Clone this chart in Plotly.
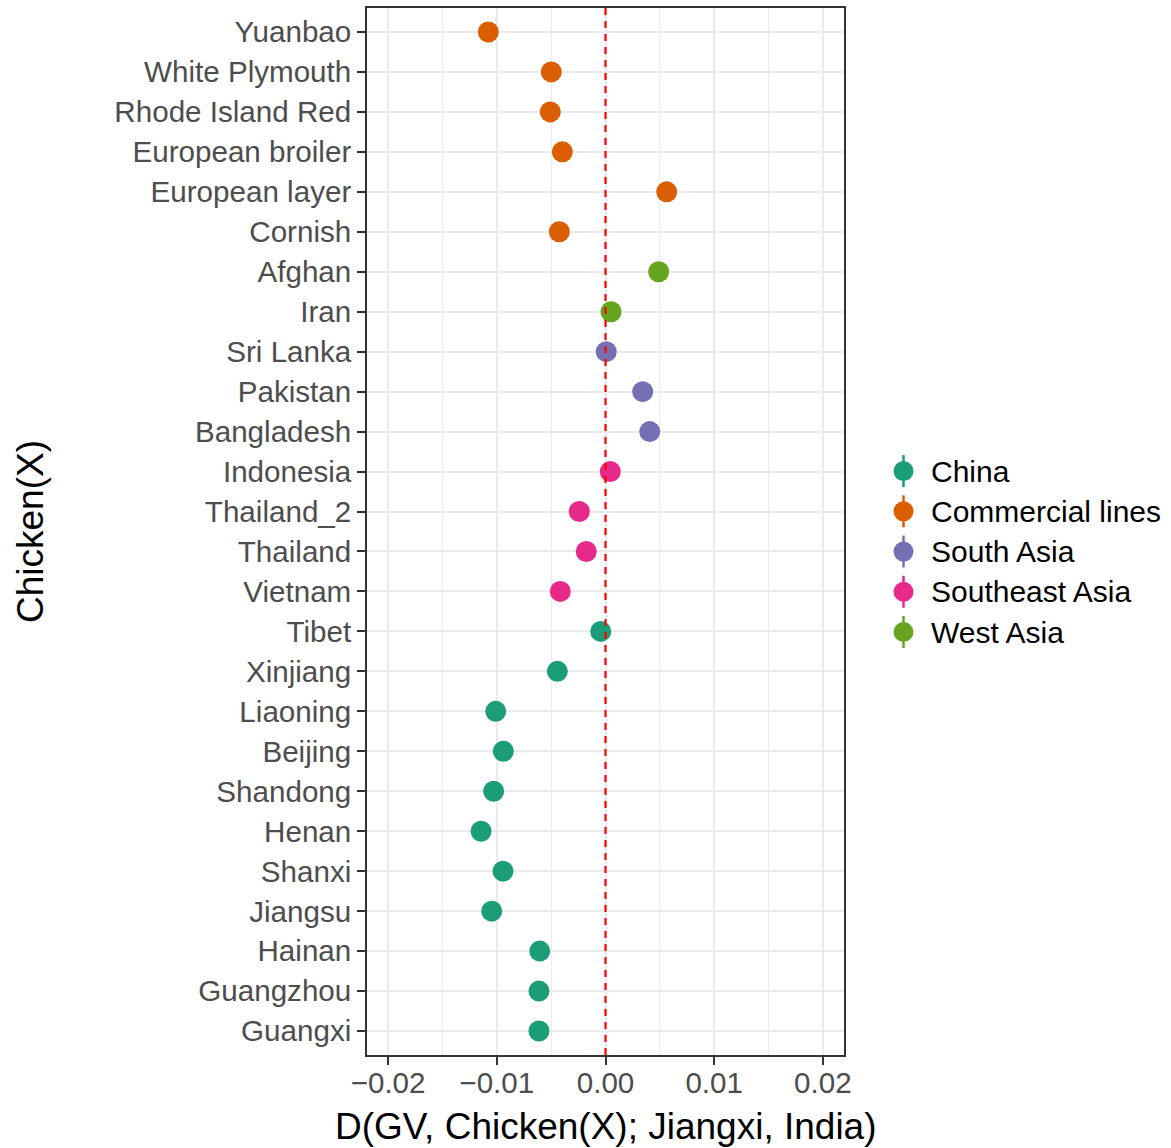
import plotly.graph_objects as go

# Breeds listed top to bottom, with their region and D statistic
breeds = ["Yuanbao", "White Plymouth", "Rhode Island Red", "European broiler",
          "European layer", "Cornish", "Afghan", "Iran", "Sri Lanka", "Pakistan",
          "Bangladesh", "Indonesia", "Thailand_2", "Thailand", "Vietnam", "Tibet",
          "Xinjiang", "Liaoning", "Beijing", "Shandong", "Henan", "Shanxi",
          "Jiangsu", "Hainan", "Guangzhou", "Guangxi"]
regions = (["Commercial lines"] * 6 + ["West Asia"] * 2 + ["South Asia"] * 3
           + ["Southeast Asia"] * 4 + ["China"] * 11)
d_values = [-0.01078, -0.00499, -0.00508, -0.00397, 0.00563, -0.00425,
            0.00489, 0.00051, 0.00007, 0.00342, 0.00407, 0.00044,
            -0.00241, -0.00177, -0.00416, -0.00044, -0.00443, -0.01010,
            -0.00940, -0.01029, -0.01145, -0.00943, -0.01047, -0.00605,
            -0.00612, -0.00612]

region_order = ["China", "Commercial lines", "South Asia", "Southeast Asia", "West Asia"]
region_colors = ["#1B9E77", "#D95F02", "#7570B3", "#E7298A", "#66A61E"]

x_ticks = [-0.02, -0.01, 0.00, 0.01, 0.02]
x_tick_text = ["\u22120.02", "\u22120.01", "0.00", "0.01", "0.02"]

W, H = 1171, 1148
L, R, T, B = 367, 844, 6, 1055          # panel edges in pixels
FONT = "Liberation Sans, Arial, sans-serif"

def px_x(p):
    return (p - L) / (R - L)

def px_y(p):
    return (B - p) / (B - T)

cat_order = breeds[::-1]  # bottom to top

fig = go.Figure()
for reg, col in zip(region_order, region_colors):
    xs = [d for d, r in zip(d_values, regions) if r == reg]
    ys = [b for b, r in zip(breeds, regions) if r == reg]
    fig.add_trace(go.Scatter(
        x=xs, y=ys, mode="markers", name=reg, showlegend=False,
        marker=dict(color=col, size=21, line=dict(width=0)),
    ))

# dashed reference line at zero
fig.add_shape(type="line", xref="x", yref="paper", x0=0, x1=0, y0=0, y1=1,
              line=dict(color="#FF0000", width=2.2, dash="7px,6px"), layer="above")

shapes = []
annotations = []

# legend: point with vertical range line and label
leg_x = 903.5
leg_y0 = 470
leg_step = 40.3
for i, (reg, col) in enumerate(zip(region_order, region_colors)):
    cy = leg_y0 + i * leg_step
    shapes.append(dict(type="line", xref="paper", yref="paper",
                       xsizemode="pixel", ysizemode="pixel",
                       xanchor=px_x(leg_x), yanchor=px_y(cy),
                       x0=0, x1=0, y0=-16, y1=16,
                       line=dict(color=col, width=2.5)))
    shapes.append(dict(type="circle", xref="paper", yref="paper",
                       xsizemode="pixel", ysizemode="pixel",
                       xanchor=px_x(leg_x), yanchor=px_y(cy),
                       x0=-10, x1=10, y0=-10, y1=10,
                       fillcolor=col, line=dict(width=0)))
    annotations.append(dict(text=reg, xref="paper", yref="paper",
                            x=px_x(929), y=px_y(cy), xanchor="left", yanchor="middle",
                            showarrow=False, font=dict(family=FONT, size=30, color="#000000")))

# axis titles
annotations.append(dict(text="D(GV, Chicken(X); Jiangxi, India)", xref="paper", yref="paper",
                        x=px_x(606), y=px_y(1127), xanchor="center", yanchor="middle",
                        showarrow=False, font=dict(family=FONT, size=37, color="#000000")))
annotations.append(dict(text="Chicken(X)", xref="paper", yref="paper",
                        x=px_x(31), y=px_y(531), xanchor="center", yanchor="middle",
                        textangle=-90, showarrow=False,
                        font=dict(family=FONT, size=37, color="#000000")))

for s in shapes:
    fig.add_shape(**s)

fig.update_layout(
    width=W, height=H,
    margin=dict(l=L, r=W - R, t=T, b=H - B, pad=0),
    paper_bgcolor="white", plot_bgcolor="white",
    showlegend=False,
    font=dict(family=FONT, size=29.6, color="#4D4D4D"),
    annotations=annotations,
)

fig.update_xaxes(
    range=[-0.02194, 0.02194],
    tickvals=x_ticks, ticktext=x_tick_text,
    showgrid=True, gridcolor="#EBEBEB", gridwidth=1.6,
    minor=dict(dtick=0.005, tick0=0, showgrid=True, gridcolor="#EBEBEB", gridwidth=1, ticks=""),
    ticks="outside", ticklen=8, tickwidth=1.6, tickcolor="#333333",
    ticklabelstandoff=-7,
    tickfont=dict(family=FONT, size=29.6, color="#4D4D4D"),
    showline=True, linecolor="#333333", linewidth=1.6, mirror=True,
    zeroline=False,
)
fig.update_yaxes(
    type="category", categoryorder="array", categoryarray=cat_order,
    range=[-0.6, 25.6],
    showgrid=True, gridcolor="#EBEBEB", gridwidth=1.6,
    ticks="outside", ticklen=8, tickwidth=1.6, tickcolor="#333333",
    ticklabelstandoff=0,
    tickfont=dict(family=FONT, size=29.6, color="#4D4D4D"),
    showline=True, linecolor="#333333", linewidth=1.6, mirror=True,
    zeroline=False,
)

fig.write_html("out.html")
